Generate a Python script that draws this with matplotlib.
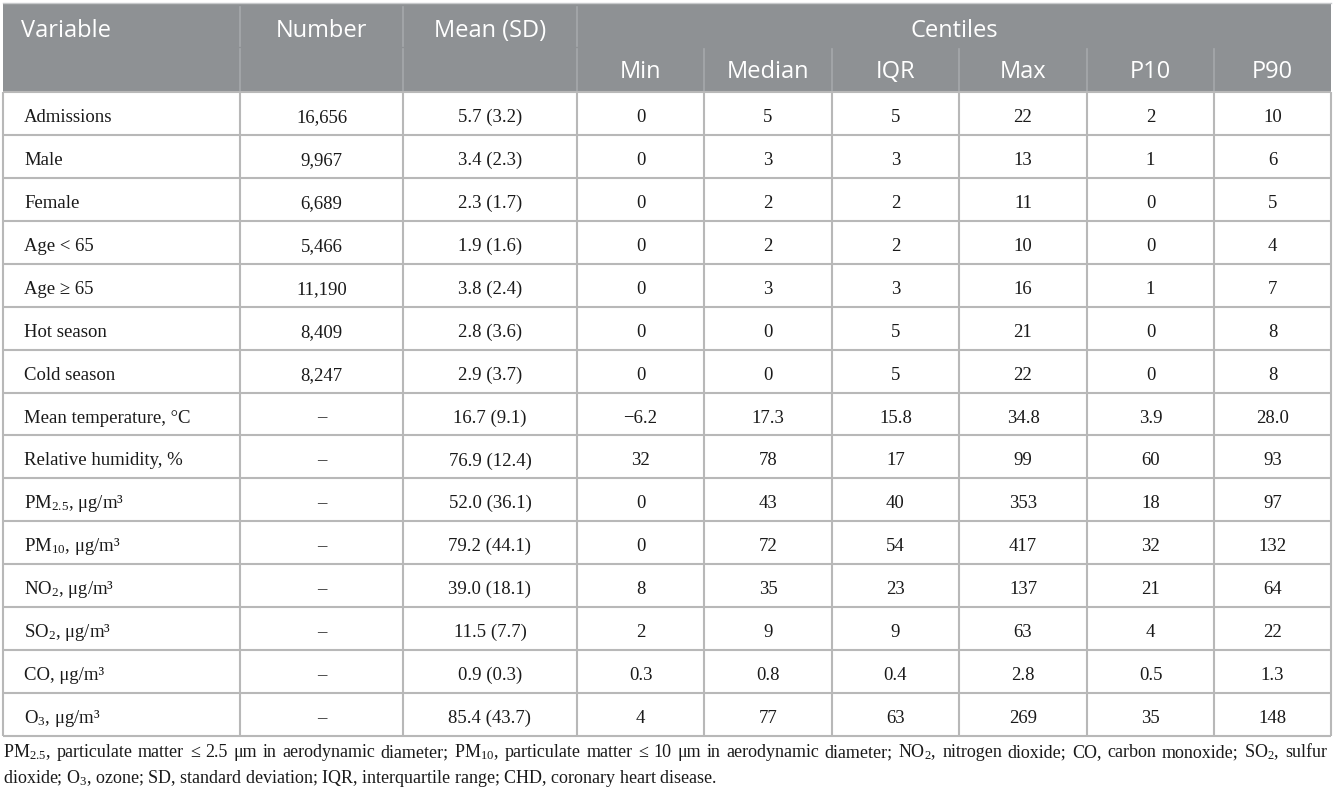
import matplotlib
matplotlib.use('Agg')
import matplotlib.pyplot as plt
from matplotlib.patches import Rectangle

plt.rcParams['mathtext.default'] = 'regular'

# ---------------- data ----------------
header_top = ['Variable', 'Number', 'Mean (SD)']
centile_title = 'Centiles'
centile_cols = ['Min', 'Median', 'IQR', 'Max', 'P10', 'P90']

variables = ['Admissions', 'Male', 'Female', 'Age < 65', 'Age ≥ 65', 'Hot season',
             'Cold season', 'Mean temperature, °C', 'Relative humidity, %',
             r'PM$_{2.5}$, μg/m³', r'PM$_{10}$, μg/m³', r'NO$_2$, μg/m³',
             r'SO$_2$, μg/m³', 'CO, μg/m³', r'O$_3$, μg/m³']
numbers = ['16,656', '9,967', '6,689', '5,466', '11,190', '8,409', '8,247',
           '–', '–', '–', '–', '–', '–', '–', '–']
mean_sd = ['5.7 (3.2)', '3.4 (2.3)', '2.3 (1.7)', '1.9 (1.6)', '3.8 (2.4)',
           '2.8 (3.6)', '2.9 (3.7)', '16.7 (9.1)', '76.9 (12.4)', '52.0 (36.1)',
           '79.2 (44.1)', '39.0 (18.1)', '11.5 (7.7)', '0.9 (0.3)', '85.4 (43.7)']
mins = ['0', '0', '0', '0', '0', '0', '0', '−6.2', '32', '0', '0', '8', '2', '0.3', '4']
medians = ['5', '3', '2', '2', '3', '0', '0', '17.3', '78', '43', '72', '35', '9', '0.8', '77']
iqrs = ['5', '3', '2', '2', '3', '5', '5', '15.8', '17', '40', '54', '23', '9', '0.4', '63']
maxs = ['22', '13', '11', '10', '16', '21', '22', '34.8', '99', '353', '417', '137', '63', '2.8', '269']
p10s = ['2', '1', '0', '0', '1', '0', '0', '3.9', '60', '18', '32', '21', '4', '0.5', '35']
p90s = ['10', '6', '5', '4', '7', '8', '8', '28.0', '93', '97', '132', '64', '22', '1.3', '148']

footnote_line1 = (r'PM$_{2.5}$, particulate matter ≤ 2.5 μm in aerodynamic diameter; '
                  r'PM$_{10}$, particulate matter ≤ 10 μm in aerodynamic diameter; '
                  r'NO$_2$, nitrogen dioxide; CO, carbon monoxide; SO$_2$, sulfur')
footnote_line2 = (r'dioxide; O$_3$, ozone; SD, standard deviation; IQR, interquartile range; '
                  r'CHD, coronary heart disease.')

columns = [variables, numbers, mean_sd, mins, medians, iqrs, maxs, p10s, p90s]

# ---------------- layout ----------------
W, H = 1333, 792
col_edges = [3, 240, 403, 577, 704, 832, 959, 1087, 1214, 1331]
top, mid, hbot = 3, 47, 92
nrows = len(variables)
bottom = 736
rh = (bottom - hbot) / nrows

header_bg = '#8e9194'
header_line = '#a5a8ab'
grid_col = '#b8b8b8'
text_col = '#1a1a1a'
body_font = 'Liberation Serif'
head_font = 'Open Sans'

fig = plt.figure(figsize=(W / 100, H / 100), dpi=100)
ax = fig.add_axes([0, 0, 1, 1])
ax.set_xlim(0, W)
ax.set_ylim(H, 0)
ax.axis('off')

# header background
ax.add_patch(Rectangle((col_edges[0], top), col_edges[-1] - col_edges[0], hbot - top,
                       facecolor=header_bg, edgecolor='none', zorder=1))
# header faint separators
for i in (1, 2, 3):
    x = col_edges[i]
    ax.plot([x, x], [top + 4, mid - 1], color=header_line, lw=1.2, zorder=2)
    ax.plot([x, x], [mid + 2, hbot - 1], color=header_line, lw=1.2, zorder=2)
for x in col_edges[4:-1]:
    ax.plot([x, x], [mid + 2, hbot - 1], color=header_line, lw=1.2, zorder=2)

# header text
hs = 17
y_top = top + 34
y_sub = mid + 31
ax.text(col_edges[0] + 18, y_top, header_top[0], color='white', fontsize=hs,
        family=head_font, ha='left', va='baseline', zorder=3)
for i in (1, 2):
    ax.text((col_edges[i] + col_edges[i + 1]) / 2, y_top, header_top[i],
            color='white', fontsize=hs, family=head_font, ha='center', va='baseline', zorder=3)
ax.text((col_edges[3] + col_edges[-1]) / 2, y_top, centile_title, color='white',
        fontsize=hs, family=head_font, ha='center', va='baseline', zorder=3)
for j, lab in enumerate(centile_cols):
    ax.text((col_edges[3 + j] + col_edges[4 + j]) / 2, y_sub, lab, color='white',
            fontsize=hs, family=head_font, ha='center', va='baseline', zorder=3)

# body grid
lw = 1.5
for r in range(nrows + 1):
    y = hbot + r * rh
    ax.plot([col_edges[0], col_edges[-1]], [y, y], color=grid_col, lw=lw, zorder=2,
            solid_capstyle='butt')
for x in col_edges:
    ax.plot([x, x], [hbot, bottom], color=grid_col, lw=lw, zorder=2, solid_capstyle='butt')
ax.plot([col_edges[0], col_edges[-1]], [top, top], color='#c8cacc', lw=1.0, zorder=2)

# body text
bs = 13.5
for r in range(nrows):
    yb = hbot + r * rh + 30
    for c, col in enumerate(columns):
        if c == 0:
            ax.text(col_edges[0] + 21, yb, col[r], fontsize=bs, family=body_font,
                    ha='left', va='baseline', color=text_col, zorder=3)
        else:
            ax.text((col_edges[c] + col_edges[c + 1]) / 2, yb, col[r], fontsize=bs,
                    family=body_font, ha='center', va='baseline', color=text_col, zorder=3)

# footnote (line 1 justified)
fs = 13
fig.canvas.draw()
renderer = fig.canvas.get_renderer()
words = footnote_line1.split(' ')
arts = []
widths = []
for w in words:
    t = ax.text(0, 757, w, fontsize=fs, family=body_font, ha='left', va='baseline',
                color=text_col)
    arts.append(t)
    widths.append(t.get_window_extent(renderer).width)
x0, x1 = 3, 1327
gap = (x1 - x0 - sum(widths)) / (len(words) - 1)
x = x0
for t, wd in zip(arts, widths):
    t.set_x(x)
    x += wd + gap
ax.text(3, 783, footnote_line2, fontsize=fs, family=body_font, ha='left', va='baseline',
        color=text_col)

fig.savefig('out.png', dpi=100)
